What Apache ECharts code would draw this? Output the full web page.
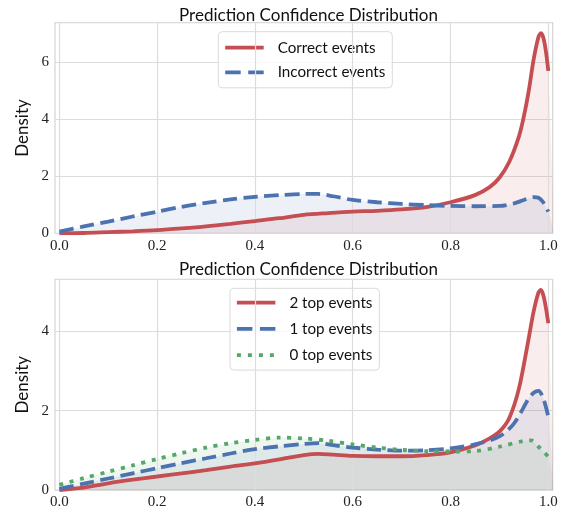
<!DOCTYPE html>
<html><head><meta charset="utf-8">
<script src="https://cdn.jsdelivr.net/npm/echarts@6/dist/echarts.min.js"></script>
<style>html,body{margin:0;padding:0;background:#fff}#c{width:568px;height:515px}</style>
</head><body><div id="c"></div>
<script>
// ---- data ----
const xTicks = [0, 0.2, 0.4, 0.6, 0.8, 1.0];
const yTicksTop = [0, 2, 4, 6];
const yTicksBottom = [0, 2, 4];

const correctX = [0, 0.05, 0.1, 0.15, 0.2, 0.25, 0.3, 0.35, 0.4, 0.45, 0.5, 0.55, 0.6, 0.65, 0.7, 0.75, 0.8, 0.85, 0.88, 0.9, 0.92, 0.94, 0.95, 0.96, 0.97, 0.98, 0.985, 0.99, 0.995, 1.0];
const correctY = [0.0, 0.01, 0.04, 0.07, 0.11, 0.17, 0.24, 0.33, 0.43, 0.53, 0.65, 0.71, 0.76, 0.79, 0.84, 0.92, 1.09, 1.34, 1.62, 1.95, 2.5, 3.4, 4.1, 5.0, 6.1, 6.9, 7.02, 6.85, 6.4, 5.7];

const incorrectX = [0, 0.05, 0.1, 0.15, 0.2, 0.25, 0.3, 0.35, 0.4, 0.45, 0.5, 0.53, 0.56, 0.6, 0.65, 0.7, 0.75, 0.8, 0.85, 0.9, 0.93, 0.95, 0.97, 0.98, 0.99, 1.0];
const incorrectY = [0.06, 0.24, 0.41, 0.59, 0.76, 0.93, 1.07, 1.19, 1.28, 1.34, 1.38, 1.38, 1.3, 1.17, 1.09, 1.03, 0.99, 0.96, 0.95, 0.96, 1.05, 1.17, 1.27, 1.25, 1.08, 0.76];

const top2X = [0, 0.05, 0.1, 0.15, 0.2, 0.25, 0.3, 0.35, 0.4, 0.45, 0.5, 0.53, 0.56, 0.6, 0.65, 0.7, 0.75, 0.8, 0.85, 0.88, 0.9, 0.92, 0.94, 0.96, 0.97, 0.98, 0.985, 0.99, 0.995, 1.0];
const top2Y = [0.0, 0.06, 0.17, 0.26, 0.34, 0.42, 0.5, 0.59, 0.67, 0.77, 0.88, 0.91, 0.89, 0.86, 0.85, 0.85, 0.88, 0.95, 1.12, 1.3, 1.47, 1.81, 2.56, 3.83, 4.5, 4.98, 5.04, 4.9, 4.6, 4.2];

const top1X = [0, 0.05, 0.1, 0.15, 0.2, 0.25, 0.3, 0.35, 0.4, 0.45, 0.5, 0.53, 0.56, 0.6, 0.65, 0.7, 0.75, 0.8, 0.85, 0.9, 0.93, 0.96, 0.97, 0.98, 0.99, 1.0];
const top1Y = [0.03, 0.16, 0.29, 0.42, 0.55, 0.68, 0.8, 0.92, 1.03, 1.1, 1.16, 1.18, 1.13, 1.07, 1.02, 0.99, 1.0, 1.05, 1.15, 1.35, 1.68, 2.31, 2.45, 2.5, 2.3, 1.85];

const top0X = [0, 0.05, 0.1, 0.15, 0.2, 0.25, 0.3, 0.35, 0.4, 0.45, 0.5, 0.55, 0.6, 0.65, 0.7, 0.75, 0.8, 0.85, 0.9, 0.95, 0.965, 0.98, 0.99, 1.0];
const top0Y = [0.13, 0.3, 0.46, 0.62, 0.78, 0.93, 1.07, 1.18, 1.26, 1.32, 1.3, 1.24, 1.15, 1.07, 1.01, 0.98, 0.97, 0.98, 1.09, 1.24, 1.25, 1.09, 0.97, 0.84];

// ---- styling ----
const RED = '#C44E52', BLUE = '#4C72B0', GREEN = '#55A868';
const GRIDC = '#dcdcdc';
const serif = '"Liberation Serif", "DejaVu Serif", serif';
const sans = 'Lato, "DejaVu Sans", sans-serif';
const DASH = [14.5, 6.3], DOT = [4, 6.6];
const LEG_DASH = [15.5, 7.5], LEG_DOT = [4, 7];

function zip(xs, ys) { return xs.map((x, i) => [x, ys[i]]); }
function fillData(xs, ys) { const d = zip(xs, ys); d.push([1.012, 0]); return d; }

function xAxisCfg(gi) {
  return {
    type: 'value', gridIndex: gi, min: -0.009, max: 1.009,
    axisLine: { show: false }, axisTick: { show: false },
    axisLabel: { customValues: xTicks, formatter: v => v.toFixed(1), fontFamily: serif, fontSize: 15, color: '#222', margin: 5 },
    splitLine: { show: false }
  };
}
function yAxisCfg(gi, max, ticks) {
  return {
    type: 'value', gridIndex: gi, min: 0, max: max, interval: 2,
    name: 'Density', nameLocation: 'middle', nameGap: 17, nameRotate: 90,
    nameTextStyle: { fontFamily: sans, fontSize: 17, color: '#111' },
    axisLine: { show: false }, axisTick: { show: false },
    axisLabel: { customValues: ticks, fontFamily: serif, fontSize: 15, color: '#222', margin: 6 },
    splitLine: { show: true, lineStyle: { color: GRIDC, width: 1.2 } }
  };
}
function vGridSeries(gi) {
  return {
    type: 'line', xAxisIndex: gi, yAxisIndex: gi, data: [], z: 1, silent: true,
    markLine: {
      silent: true, symbol: ['none', 'none'], animation: false,
      label: { show: false }, emphasis: { disabled: true },
      lineStyle: { color: GRIDC, width: 1.2, type: 'solid' },
      data: xTicks.map(v => ({ xAxis: v }))
    }
  };
}
function lineSeries(name, gi, xs, ys, color, type) {
  return {
    name: name, type: 'line', xAxisIndex: gi, yAxisIndex: gi, data: zip(xs, ys),
    smooth: 0.3, symbol: 'none', z: 5,
    lineStyle: { color: color, width: 3.8, type: type, cap: 'butt' },
    itemStyle: { color: color }
  };
}
function fillSeries(gi, xs, ys, color) {
  return {
    type: 'line', xAxisIndex: gi, yAxisIndex: gi, data: fillData(xs, ys),
    smooth: 0.3, symbol: 'none', z: 2, silent: true,
    lineStyle: { width: 0 }, areaStyle: { color: color, opacity: 0.1 }
  };
}
function legendCfg(items, left, top, gap, pad) {
  return {
    data: items.map(it => ({ name: it[0], lineStyle: { type: it[1], width: 3.8, cap: 'butt' } })),
    left: left, top: top, orient: 'vertical',
    itemWidth: 38.5, itemHeight: 16, itemGap: gap,
    padding: pad,
    itemStyle: { opacity: 0, borderWidth: 0 },
    lineStyle: { width: 3.8 },
    borderColor: '#dadada', borderWidth: 1, borderRadius: 4, backgroundColor: 'rgba(255,255,255,0.8)',
    textStyle: { fontFamily: sans, fontSize: 15.2, lineHeight: 16, color: '#111', padding: [0, 0, 0, 9] }
  };
}

const option = {
  animation: false,
  title: [
    { text: 'Prediction Confidence Distribution', left: 303.5, top: 2, textAlign: 'center', textStyle: { fontFamily: sans, fontSize: 17, fontWeight: 'normal', color: '#111' } },
    { text: 'Prediction Confidence Distribution', left: 303.5, top: 256.5, textAlign: 'center', textStyle: { fontFamily: sans, fontSize: 17, fontWeight: 'normal', color: '#111' } }
  ],
  grid: [
    { left: 55, right: 15.3, top: 22.7, height: 210.6, show: true, borderColor: '#d4d4d4', borderWidth: 1.2, backgroundColor: 'transparent' },
    { left: 55, right: 15.3, top: 279.3, height: 210.7, show: true, borderColor: '#d4d4d4', borderWidth: 1.2, backgroundColor: 'transparent' }
  ],
  xAxis: [xAxisCfg(0), xAxisCfg(1)],
  yAxis: [yAxisCfg(0, 7.39, yTicksTop), yAxisCfg(1, 5.31, yTicksBottom)],
  legend: [
    legendCfg([['Correct events', 'solid'], ['Incorrect events', LEG_DASH]], 218.3, 31.7, 8.7, [8, 7, 7.4, 5]),
    legendCfg([['2 top events', 'solid'], ['1 top events', LEG_DASH], ['0 top events', LEG_DOT]], 230, 288.3, 10.2, [6.4, 7, 7, 5])
  ],
  series: [
    vGridSeries(0),
    vGridSeries(1),
    fillSeries(0, correctX, correctY, RED),
    fillSeries(0, incorrectX, incorrectY, BLUE),
    lineSeries('Correct events', 0, correctX, correctY, RED, 'solid'),
    lineSeries('Incorrect events', 0, incorrectX, incorrectY, BLUE, DASH),
    fillSeries(1, top2X, top2Y, RED),
    fillSeries(1, top1X, top1Y, BLUE),
    fillSeries(1, top0X, top0Y, GREEN),
    lineSeries('2 top events', 1, top2X, top2Y, RED, 'solid'),
    lineSeries('1 top events', 1, top1X, top1Y, BLUE, DASH),
    lineSeries('0 top events', 1, top0X, top0Y, GREEN, DOT)
  ]
};
const chart = echarts.init(document.getElementById('c'), null, { renderer: 'canvas' });
chart.setOption(option);
</script></body></html>
